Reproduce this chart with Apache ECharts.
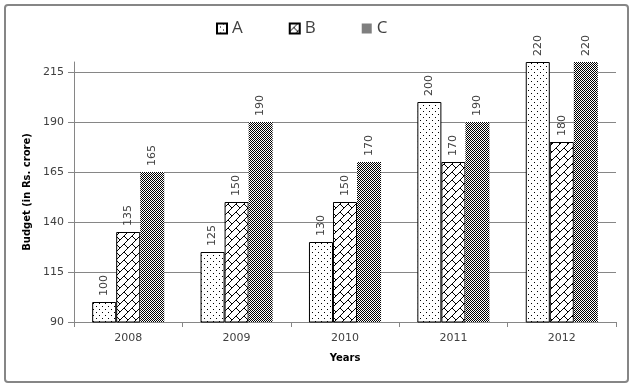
<!DOCTYPE html>
<html>
<head>
<meta charset="utf-8">
<script src="https://cdn.jsdelivr.net/npm/echarts@6/dist/echarts.min.js"></script>
<style>html,body{margin:0;padding:0;background:#fff}#c{width:633px;height:388px}</style>
</head>
<body>
<div id="c"></div>
<script>
const categories = ['2008', '2009', '2010', '2011', '2012'];
const seriesA = [100, 125, 130, 200, 220];
const seriesB = [135, 150, 150, 170, 180];
const seriesC = [165, 190, 170, 190, 220];
const yTicks = [90, 115, 140, 165, 190, 215];

function makeTile(w, h, draw) {
  const c = document.createElement('canvas');
  c.width = w; c.height = h;
  const ctx = c.getContext('2d');
  ctx.fillStyle = '#fff';
  ctx.fillRect(0, 0, w, h);
  ctx.fillStyle = '#000';
  draw(ctx);
  return c;
}
const patA = makeTile(6, 6, ctx => { ctx.fillRect(0, 0, 1, 1); ctx.fillRect(3, 3, 1, 1); });
const patB = makeTile(8, 8, ctx => {
  for (let i = 0; i < 8; i++) ctx.fillRect(7 - i, i, 1, 1);
  for (let i = 0; i < 4; i++) ctx.fillRect(4 + i, 4 + i, 1, 1);
});
const patC = makeTile(2, 2, ctx => { ctx.fillRect(0, 0, 1, 1); ctx.fillRect(1, 1, 1, 1); });

const font = 'DejaVu Sans';
const lbl = {
  show: true, position: 'top', rotate: 90, align: 'left', verticalAlign: 'middle',
  distance: 6, color: '#404040', fontSize: 11, fontFamily: font
};
function mk(name, data, pat, border) {
  return {
    name, type: 'bar', data, barGap: '0%', barCategoryGap: '33.5%',
    itemStyle: { color: { image: pat, repeat: 'repeat' }, borderColor: border ? '#000' : 'transparent', borderWidth: border ? 1 : 0 },
    label: lbl
  };
}
const chart = echarts.init(document.getElementById('c'), null, { renderer: 'canvas' });
chart.setOption({
  animation: false,
  backgroundColor: '#fff',
  graphic: [{ type: 'rect', shape: { x: 5, y: 5, width: 623, height: 377, r: 3 }, style: { fill: 'none', stroke: '#868686', lineWidth: 2 } }],
  legend: {
    left: 211, top: 15, itemWidth: 10, itemHeight: 10, itemGap: 46, icon: 'rect',
    textStyle: { fontSize: 17, color: '#404040', fontFamily: 'Open Sans' },
    data: ['A', 'B', 'C']
  },
  grid: { left: 74, right: 17, top: 62, bottom: 66, containLabel: false },
  xAxis: {
    type: 'category', data: categories,
    name: 'Years', nameLocation: 'middle', nameGap: 31,
    nameTextStyle: { fontWeight: 'bold', fontSize: 10, color: '#000', fontFamily: font },
    axisLine: { lineStyle: { color: '#868686', width: 1 } },
    axisTick: { show: true, length: 5, lineStyle: { color: '#868686' } },
    axisLabel: { color: '#404040', fontSize: 11, fontFamily: font, margin: 11 }
  },
  yAxis: {
    type: 'value', min: 90, max: 220, interval: 25,
    name: 'Budget (in Rs. crore)', nameLocation: 'middle', nameGap: 33,
    nameTextStyle: { fontWeight: 'bold', fontSize: 10, color: '#000', fontFamily: font },
    axisLine: { show: true, lineStyle: { color: '#868686', width: 1 } },
    axisTick: { show: true, length: 6, lineStyle: { color: '#868686' }, customValues: yTicks },
    axisLabel: { color: '#404040', fontSize: 11, fontFamily: font, margin: 10, customValues: yTicks },
    splitLine: { show: true, lineStyle: { color: ['#868686', '#868686', '#868686', '#868686', '#868686', '#868686', 'rgba(0,0,0,0)'], width: 1 } }
  },
  series: [mk('A', seriesA, patA, true), mk('B', seriesB, patB, true), mk('C', seriesC, patC, false)]
});
</script>
</body>
</html>
